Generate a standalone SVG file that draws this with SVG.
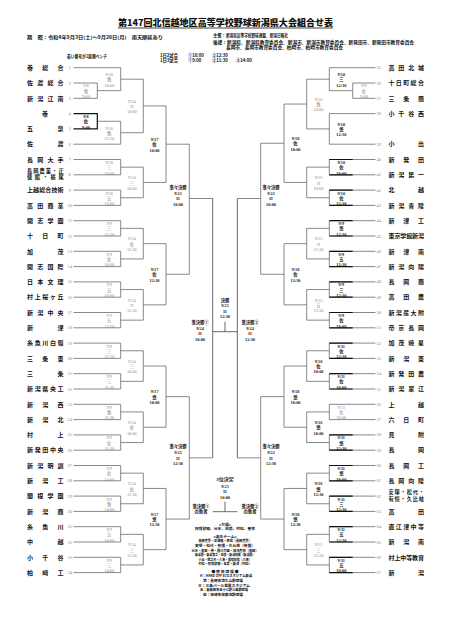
<svg xmlns="http://www.w3.org/2000/svg" width="452" height="640" viewBox="0 0 452 640">
<style>
.ln{fill:none;stroke:#6a6a6a;stroke-width:0.8}
.bd{fill:none;stroke:#111;stroke-width:1.2}
.nm{font-family:"Noto Sans CJK JP","Noto Sans",sans-serif;font-weight:700;font-size:6px;fill:#111}
.n2{font-size:5.2px}
.no{font-family:"Liberation Serif",serif;font-size:4.6px;fill:#888}
.lb{font-family:"Liberation Serif","Noto Sans CJK JP",serif;font-size:4.3px;text-anchor:middle}
.g{fill:#8a8a8a}
.k{fill:#1a1a1a;font-weight:700}
.hd{font-family:"Noto Sans CJK JP",sans-serif;font-size:4.3px;fill:#111;font-weight:700}
.ct{font-family:"Noto Sans CJK JP",sans-serif;font-size:3.8px;fill:#111;font-weight:700;text-anchor:middle}
.tt{font-family:"Noto Sans CJK JP",serif;font-size:9px;font-weight:900;fill:#111}
</style>
<rect width="452" height="640" fill="#fff"/>

<g id="title">
<text class="tt" x="118" y="26.2" textLength="215" lengthAdjust="spacingAndGlyphs">第147回北信越地区高等学校野球新潟県大会組合せ表</text>
<line x1="118" y1="28" x2="333" y2="28" stroke="#111" stroke-width="0.8"/>
</g>
<g id="header">
<text class="hd" x="27" y="39" textLength="136" lengthAdjust="spacingAndGlyphs">期　間：令和4年9月3日(土)～9月26日(月)　雨天順延あり</text>
<text class="hd" x="213" y="37.2">主催：<tspan textLength="62" lengthAdjust="spacingAndGlyphs">新潟県高等学校野球連盟、新潟日報社</tspan></text>
<text class="hd" x="213" y="43.7" textLength="201" lengthAdjust="spacingAndGlyphs">後援：新潟県、新潟県教育委員会、新潟市、新潟市教育委員会、新発田市、新発田市教育委員会</text>
<text class="hd" x="226" y="49.2" textLength="117" lengthAdjust="spacingAndGlyphs">長岡市、長岡市教育委員会、柏崎市、柏崎市教育委員会</text>
<text class="hd" x="67" y="57.5" textLength="40" lengthAdjust="spacingAndGlyphs">若い番号が1塁側ベンチ</text>
<text class="hd" x="160" y="56.5">1日2試合</text>
<text class="hd" x="188" y="56.5">①10:00</text>
<text class="hd" x="212" y="56.5">②12:30</text>
<text class="hd" x="160" y="61.5">1日3試合</text>
<text class="hd" x="188" y="61.5">①9:00</text>
<text class="hd" x="212" y="61.5">②11:30</text>
<text class="hd" x="236" y="61.5">③14:00</text>
</g>

<g id="connectors">
<path class="ln" d="M73.5 67.7H120.7M73.5 83H97.3V98.3H73.5M97.3 90.65H120.7M120.7 67.7V90.65M120.7 79.2H143.3M97.3 121.25H120.7M73.5 144.2H120.7V121.25M120.7 132.7H143.3M143.3 79.2V132.7M143.3 105.95H166
M73.5 159.5H120.7V174.8H73.5M120.7 167.15H143.3M73.5 190.1H120.7V205.4H73.5M120.7 197.75H143.3M143.3 167.15V197.75M143.3 182.45H166M166 105.95V182.45M166 144.2H189.3
M73.5 220.7H120.7V236H73.5M120.7 228.35H143.3M73.5 251.3H120.7V266.6H73.5M120.7 258.95H143.3M143.3 228.35V258.95M143.3 243.65H166
M73.5 281.9H120.7V297.2H73.5M120.7 289.55H143.3M73.5 312.5H120.7V327.8H73.5M120.7 320.15H143.3M143.3 289.55V320.15M143.3 304.85H166M166 243.65V304.85M166 274.25H189.3M189.3 144.2V274.25M189.3 198.5H212.7
M73.5 343.1H120.7V358.4H73.5M120.7 350.75H143.3M73.5 373.7H120.7V389H73.5M120.7 381.35H143.3M143.3 350.75V381.35M143.3 366.05H166
M73.5 404.3H120.7V419.6H73.5M120.7 411.95H143.3M73.5 434.9H120.7V450.2H73.5M120.7 442.55H143.3M143.3 411.95V442.55M143.3 427.25H166M166 366.05V427.25M166 396.65H189.3
M73.5 465.5H120.7V480.8H73.5M120.7 473.15H143.3M73.5 496.1H120.7V511.4H73.5M120.7 503.75H143.3M143.3 473.15V503.75M143.3 488.45H166
M73.5 526.7H120.7V542H73.5M120.7 534.35H143.3M73.5 557.3H120.7V572.6H73.5M120.7 564.95H143.3M143.3 534.35V564.95M143.3 549.65H166M166 488.45V549.65M166 519.05H189.3M189.3 396.65V519.05M189.3 457.85H212.7"/>
<path class="bd" d="M73.5 113.6H97.3V128.9H73.5"/>
<path class="ln" d="M375.5 67.7H329.3V90.65M375.5 83H352.7V98.3H375.5M352.7 90.65H329.3M329.3 79.2H306.7M375.5 113.6H329.3V144.2H375.5M329.3 128.9H306.7M306.7 79.2V128.9M306.7 104.05H284
M375.5 159.5H329.3V174.8H375.5M329.3 167.15H306.7M375.5 190.1H329.3V205.4H375.5M329.3 197.75H306.7M306.7 167.15V197.75M306.7 182.45H284M284 104.05V182.45M284 143.25H260.7
M375.5 220.7H329.3V236H375.5M329.3 228.35H306.7M375.5 251.3H329.3V266.6H375.5M329.3 258.95H306.7M306.7 228.35V258.95M306.7 243.65H284
M375.5 281.9H329.3V297.2H375.5M329.3 289.55H306.7M375.5 312.5H329.3V327.8H375.5M329.3 320.15H306.7M306.7 289.55V320.15M306.7 304.85H284M284 243.65V304.85M284 274.25H260.7M260.7 143.25V274.25M260.7 198.5H237.3
M375.5 343.1H329.3V358.4H375.5M329.3 350.75H306.7M375.5 373.7H329.3V389H375.5M329.3 381.35H306.7M306.7 350.75V381.35M306.7 366.05H284
M375.5 404.3H329.3V419.6H375.5M329.3 411.95H306.7M375.5 434.9H329.3V450.2H375.5M329.3 442.55H306.7M306.7 411.95V442.55M306.7 427.25H284M284 366.05V427.25M284 396.65H260.7
M375.5 465.5H329.3V480.8H375.5M329.3 473.15H306.7M375.5 496.1H329.3V511.4H375.5M329.3 503.75H306.7M306.7 473.15V503.75M306.7 488.45H284
M375.5 526.7H329.3V542H375.5M329.3 534.35H306.7M375.5 557.3H329.3V572.6H375.5M329.3 564.95H306.7M306.7 534.35V564.95M306.7 549.65H284M284 488.45V549.65M284 519.05H260.7M260.7 396.65V519.05M260.7 457.85H237.3"/>
<path class="bd" d="M352.7 159.5H329.3M352.7 174.8H329.3M352.7 190.1H329.3M352.7 205.4H329.3M352.7 220.7H329.3M352.7 236H329.3M352.7 251.3H329.3M352.7 266.6H329.3M352.7 281.9H329.3M352.7 297.2H329.3M352.7 312.5H329.3M352.7 327.8H329.3M352.7 343.1H329.3M352.7 358.4H329.3M352.7 373.7H329.3M352.7 389H329.3M352.7 434.9H329.3M352.7 450.2H329.3M352.7 465.5H329.3M352.7 480.8H329.3M352.7 496.1H329.3M352.7 511.4H329.3M352.7 526.7H329.3M352.7 542H329.3M352.7 557.3H329.3M352.7 572.6H329.3"/>
<path class="ln" style="stroke:#444" d="M212.7 198.5V457.85M237.3 198.5V457.85M212.7 331.7H237.3M225 321.7V331.7M212.7 511.7H237.3M225 501.7V511.7"/>
</g>

<g id="teams-left">
<g id="t1"><text class="nm" x="27" y="69.9" textLength="36.6" lengthAdjust="spacing">巻総合</text><text class="no" x="68.5" y="69.2">1</text></g>
<g id="t2"><text class="nm" x="27" y="85.2" textLength="36.6" lengthAdjust="spacing">佐渡総合</text><text class="no" x="68.5" y="84.5">2</text></g>
<g id="t3"><text class="nm" x="27" y="100.5" textLength="36.6" lengthAdjust="spacing">新潟江南</text><text class="no" x="68.5" y="99.8">3</text></g>
<g id="t4"><text class="nm" x="45" y="115.8" text-anchor="middle">巻</text><text class="no" x="68.5" y="115.1">4</text></g>
<g id="t5"><text class="nm" x="27" y="131.1" textLength="36.6" lengthAdjust="spacing">五泉</text><text class="no" x="68.5" y="130.4">5</text></g>
<g id="t6"><text class="nm" x="27" y="146.4" textLength="36.6" lengthAdjust="spacing">佐渡</text><text class="no" x="68.5" y="145.7">6</text></g>
<g id="t7"><text class="nm" x="27" y="161.7" textLength="36.6" lengthAdjust="spacing">長岡大手</text><text class="no" x="68.5" y="161">7</text></g>
<g id="t8"><text class="nm n2" x="27" y="173" textLength="36.6" lengthAdjust="spacing">長岡農業・正</text><text class="nm n2" x="27" y="179.3" textLength="36.6" lengthAdjust="spacing">徳館・栃尾</text><text class="no" x="68.5" y="176.3">8</text></g>
<g id="t9"><text class="nm" x="27" y="192.3" textLength="36.6" lengthAdjust="spacing">上越総合技術</text><text class="no" x="68.5" y="191.6">9</text></g>
<g id="t10"><text class="nm" x="27" y="207.6" textLength="36.6" lengthAdjust="spacing">高田商業</text><text class="no" x="67.5" y="206.9">10</text></g>
<g id="t11"><text class="nm" x="27" y="222.9" textLength="36.6" lengthAdjust="spacing">開志学園</text><text class="no" x="67.5" y="222.2">11</text></g>
<g id="t12"><text class="nm" x="27" y="238.2" textLength="36.6" lengthAdjust="spacing">十日町</text><text class="no" x="67.5" y="237.5">12</text></g>
<g id="t13"><text class="nm" x="27" y="253.5" textLength="36.6" lengthAdjust="spacing">加茂</text><text class="no" x="67.5" y="252.8">13</text></g>
<g id="t14"><text class="nm" x="27" y="268.8" textLength="36.6" lengthAdjust="spacing">開志国際</text><text class="no" x="67.5" y="268.1">14</text></g>
<g id="t15"><text class="nm" x="27" y="284.1" textLength="36.6" lengthAdjust="spacing">日本文理</text><text class="no" x="67.5" y="283.4">15</text></g>
<g id="t16"><text class="nm" x="27" y="299.4" textLength="36.6" lengthAdjust="spacing">村上桜ヶ丘</text><text class="no" x="67.5" y="298.7">16</text></g>
<g id="t17"><text class="nm" x="27" y="314.7" textLength="36.6" lengthAdjust="spacing">新潟中央</text><text class="no" x="67.5" y="314">17</text></g>
<g id="t18"><text class="nm" x="27" y="330" textLength="36.6" lengthAdjust="spacing">新津</text><text class="no" x="67.5" y="329.3">18</text></g>
<g id="t19"><text class="nm" x="27" y="345.3" textLength="36.6" lengthAdjust="spacing">糸魚川白嶺</text><text class="no" x="67.5" y="344.6">19</text></g>
<g id="t20"><text class="nm" x="27" y="360.6" textLength="36.6" lengthAdjust="spacing">三条東</text><text class="no" x="67.5" y="359.9">20</text></g>
<g id="t21"><text class="nm" x="27" y="375.9" textLength="36.6" lengthAdjust="spacing">三条</text><text class="no" x="67.5" y="375.2">21</text></g>
<g id="t22"><text class="nm" x="27" y="391.2" textLength="36.6" lengthAdjust="spacing">新潟県央工</text><text class="no" x="67.5" y="390.5">22</text></g>
<g id="t23"><text class="nm" x="27" y="406.5" textLength="36.6" lengthAdjust="spacing">新潟西</text><text class="no" x="67.5" y="405.8">23</text></g>
<g id="t24"><text class="nm" x="27" y="421.8" textLength="36.6" lengthAdjust="spacing">新潟北</text><text class="no" x="67.5" y="421.1">24</text></g>
<g id="t25"><text class="nm" x="27" y="437.1" textLength="36.6" lengthAdjust="spacing">村上</text><text class="no" x="67.5" y="436.4">25</text></g>
<g id="t26"><text class="nm" x="27" y="452.4" textLength="36.6" lengthAdjust="spacing">新発田中央</text><text class="no" x="67.5" y="451.7">26</text></g>
<g id="t27"><text class="nm" x="27" y="467.7" textLength="36.6" lengthAdjust="spacing">新潟明訓</text><text class="no" x="67.5" y="467">27</text></g>
<g id="t28"><text class="nm" x="27" y="483" textLength="36.6" lengthAdjust="spacing">新潟工</text><text class="no" x="67.5" y="482.3">28</text></g>
<g id="t29"><text class="nm" x="27" y="498.3" textLength="36.6" lengthAdjust="spacing">関根学園</text><text class="no" x="67.5" y="497.6">29</text></g>
<g id="t30"><text class="nm" x="27" y="513.6" textLength="36.6" lengthAdjust="spacing">新潟商</text><text class="no" x="67.5" y="512.9">30</text></g>
<g id="t31"><text class="nm" x="27" y="528.9" textLength="36.6" lengthAdjust="spacing">糸魚川</text><text class="no" x="67.5" y="528.2">31</text></g>
<g id="t32"><text class="nm" x="27" y="544.2" textLength="36.6" lengthAdjust="spacing">中越</text><text class="no" x="67.5" y="543.5">32</text></g>
<g id="t33"><text class="nm" x="27" y="559.5" textLength="36.6" lengthAdjust="spacing">小千谷</text><text class="no" x="67.5" y="558.8">33</text></g>
<g id="t34"><text class="nm" x="27" y="574.8" textLength="36.6" lengthAdjust="spacing">柏崎工</text><text class="no" x="67.5" y="574.1">34</text></g>
</g>

<g id="teams-right">
<g id="t35"><text class="no" x="376.5" y="69.2">35</text><text class="nm" x="388.5" y="69.9" textLength="35.5" lengthAdjust="spacing">高田北城</text></g>
<g id="t36"><text class="no" x="376.5" y="84.5">36</text><text class="nm" x="388.5" y="85.2" textLength="35.5" lengthAdjust="spacing">十日町総合</text></g>
<g id="t37"><text class="no" x="376.5" y="99.8">37</text><text class="nm" x="388.5" y="100.5" textLength="35.5" lengthAdjust="spacing">三条商</text></g>
<g id="t38"><text class="no" x="376.5" y="115.1">38</text><text class="nm" x="388.5" y="115.8" textLength="35.5" lengthAdjust="spacing">小千谷西</text></g>
<g id="t39"><text class="no" x="376.5" y="145.7">39</text><text class="nm" x="388.5" y="146.4" textLength="35.5" lengthAdjust="spacing">小出</text></g>
<g id="t40"><text class="no" x="376.5" y="161">40</text><text class="nm" x="388.5" y="161.7" textLength="35.5" lengthAdjust="spacing">新発田</text></g>
<g id="t41"><text class="no" x="376.5" y="176.3">41</text><text class="nm" x="388.5" y="177" textLength="35.5" lengthAdjust="spacing">新潟第一</text></g>
<g id="t42"><text class="no" x="376.5" y="191.6">42</text><text class="nm" x="388.5" y="192.3" textLength="35.5" lengthAdjust="spacing">北越</text></g>
<g id="t43"><text class="no" x="376.5" y="206.9">43</text><text class="nm" x="388.5" y="207.6" textLength="35.5" lengthAdjust="spacing">新潟青陵</text></g>
<g id="t44"><text class="no" x="376.5" y="222.2">44</text><text class="nm" x="388.5" y="222.9" textLength="35.5" lengthAdjust="spacing">新津工</text></g>
<g id="t45"><text class="no" x="376.5" y="237.5">45</text><text class="nm" x="388.5" y="238.2" textLength="35.5" lengthAdjust="spacing">東京学館新潟</text></g>
<g id="t46"><text class="no" x="376.5" y="252.8">46</text><text class="nm" x="388.5" y="253.5" textLength="35.5" lengthAdjust="spacing">新津南</text></g>
<g id="t47"><text class="no" x="376.5" y="268.1">47</text><text class="nm" x="388.5" y="268.8" textLength="35.5" lengthAdjust="spacing">新潟向陽</text></g>
<g id="t48"><text class="no" x="376.5" y="283.4">48</text><text class="nm" x="388.5" y="284.1" textLength="35.5" lengthAdjust="spacing">長岡商</text></g>
<g id="t49"><text class="no" x="376.5" y="298.7">49</text><text class="nm" x="388.5" y="299.4" textLength="35.5" lengthAdjust="spacing">高田農</text></g>
<g id="t50"><text class="no" x="376.5" y="314">50</text><text class="nm" x="388.5" y="314.7" textLength="35.5" lengthAdjust="spacing">新潟産大附</text></g>
<g id="t51"><text class="no" x="376.5" y="329.3">51</text><text class="nm" x="388.5" y="330" textLength="35.5" lengthAdjust="spacing">帝京長岡</text></g>
<g id="t52"><text class="no" x="376.5" y="344.6">52</text><text class="nm" x="388.5" y="345.3" textLength="35.5" lengthAdjust="spacing">加茂暁星</text></g>
<g id="t53"><text class="no" x="376.5" y="359.9">53</text><text class="nm" x="388.5" y="360.6" textLength="35.5" lengthAdjust="spacing">新潟東</text></g>
<g id="t54"><text class="no" x="376.5" y="375.2">54</text><text class="nm" x="388.5" y="375.9" textLength="35.5" lengthAdjust="spacing">新発田農</text></g>
<g id="t55"><text class="no" x="376.5" y="390.5">55</text><text class="nm" x="388.5" y="391.2" textLength="35.5" lengthAdjust="spacing">新潟翠江</text></g>
<g id="t56"><text class="no" x="376.5" y="405.8">56</text><text class="nm" x="388.5" y="406.5" textLength="35.5" lengthAdjust="spacing">上越</text></g>
<g id="t57"><text class="no" x="376.5" y="421.1">57</text><text class="nm" x="388.5" y="421.8" textLength="35.5" lengthAdjust="spacing">六日町</text></g>
<g id="t58"><text class="no" x="376.5" y="436.4">58</text><text class="nm" x="388.5" y="437.1" textLength="35.5" lengthAdjust="spacing">見附</text></g>
<g id="t59"><text class="no" x="376.5" y="451.7">59</text><text class="nm" x="388.5" y="452.4" textLength="35.5" lengthAdjust="spacing">長岡</text></g>
<g id="t60"><text class="no" x="376.5" y="467">60</text><text class="nm" x="388.5" y="467.7" textLength="35.5" lengthAdjust="spacing">長岡工</text></g>
<g id="t61"><text class="no" x="376.5" y="482.3">61</text><text class="nm" x="388.5" y="483" textLength="35.5" lengthAdjust="spacing">長岡向陵</text></g>
<g id="t62"><text class="no" x="376.5" y="497.6">62</text><text class="nm n2" x="388.5" y="494.4" textLength="35.5" lengthAdjust="spacing">安塚・松代・</text><text class="nm n2" x="388.5" y="500.7" textLength="35.5" lengthAdjust="spacing">有恒・久比岐</text></g>
<g id="t63"><text class="no" x="376.5" y="512.9">63</text><text class="nm" x="388.5" y="513.6" textLength="35.5" lengthAdjust="spacing">高田</text></g>
<g id="t64"><text class="no" x="376.5" y="528.2">64</text><text class="nm" x="388.5" y="528.9" textLength="35.5" lengthAdjust="spacing">直江津中等</text></g>
<g id="t65"><text class="no" x="376.5" y="543.5">65</text><text class="nm" x="388.5" y="544.2" textLength="35.5" lengthAdjust="spacing">新潟南</text></g>
<g id="t66"><text class="no" x="376.5" y="558.8">66</text><text class="nm" x="388.5" y="559.5" textLength="35.5" lengthAdjust="spacing">村上中等教育</text></g>
<g id="t67"><text class="no" x="376.5" y="574.1">67</text><text class="nm" x="388.5" y="574.8" textLength="35.5" lengthAdjust="spacing">新潟</text></g>
</g>

<g id="matches-left">
<g id="mLA1"><text class="lb g" x="86" y="87.45"><tspan x="86">9/8</tspan><tspan x="86" dy="5.3">悠</tspan><tspan x="86" dy="5.3">9:00</tspan></text></g>
<g id="mLA2"><text class="lb k" x="86" y="118.05"><tspan x="86">9/8</tspan><tspan x="86" dy="5.3">佐</tspan><tspan x="86" dy="5.3">9:00</tspan></text></g>
<g id="mLA3"><text class="lb g" x="109.2" y="76"><tspan x="109.2">9/10</tspan><tspan x="109.2" dy="5.3">悠</tspan><tspan x="109.2" dy="5.3">10:00</tspan></text></g>
<g id="mLA4"><text class="lb g" x="109.2" y="129.5"><tspan x="109.2">9/10</tspan><tspan x="109.2" dy="5.3">悠</tspan><tspan x="109.2" dy="5.3">12:30</tspan></text></g>
<g id="mLA5"><text class="lb g" x="131.8" y="102.75"><tspan x="131.8">9/14</tspan><tspan x="131.8" dy="5.3">H</tspan><tspan x="131.8" dy="5.3">10:00</tspan></text></g>
<g id="mLB1"><text class="lb g" x="109.2" y="163.95"><tspan x="109.2">9/10</tspan><tspan x="109.2" dy="5.3">三</tspan><tspan x="109.2" dy="5.3">10:00</tspan></text></g>
<g id="mLB2"><text class="lb g" x="109.2" y="194.55"><tspan x="109.2">9/10</tspan><tspan x="109.2" dy="5.3">五</tspan><tspan x="109.2" dy="5.3">10:00</tspan></text></g>
<g id="mLB3"><text class="lb g" x="131.8" y="179.25"><tspan x="131.8">9/14</tspan><tspan x="131.8" dy="5.3">三</tspan><tspan x="131.8" dy="5.3">10:00</tspan></text></g>
<g id="mL17a"><text class="lb k" x="154.5" y="141"><tspan x="154.5">9/17</tspan><tspan x="154.5" dy="5.3">佐</tspan><tspan x="154.5" dy="5.3">10:00</tspan></text></g>
<g id="mLC1"><text class="lb g" x="109.2" y="225.15"><tspan x="109.2">9/9</tspan><tspan x="109.2" dy="5.3">三</tspan><tspan x="109.2" dy="5.3">12:30</tspan></text></g>
<g id="mLC2"><text class="lb g" x="109.2" y="255.75"><tspan x="109.2">9/9</tspan><tspan x="109.2" dy="5.3">佐</tspan><tspan x="109.2" dy="5.3">10:00</tspan></text></g>
<g id="mLC3"><text class="lb g" x="131.8" y="240.45"><tspan x="131.8">9/14</tspan><tspan x="131.8" dy="5.3">佐</tspan><tspan x="131.8" dy="5.3">12:30</tspan></text></g>
<g id="mLD1"><text class="lb g" x="109.2" y="286.35"><tspan x="109.2">9/9</tspan><tspan x="109.2" dy="5.3">五</tspan><tspan x="109.2" dy="5.3">10:00</tspan></text></g>
<g id="mLD2"><text class="lb g" x="109.2" y="316.95"><tspan x="109.2">9/9</tspan><tspan x="109.2" dy="5.3">五</tspan><tspan x="109.2" dy="5.3">12:30</tspan></text></g>
<g id="mLD3"><text class="lb g" x="131.8" y="301.65"><tspan x="131.8">9/14</tspan><tspan x="131.8" dy="5.3">H</tspan><tspan x="131.8" dy="5.3">12:30</tspan></text></g>
<g id="mL17b"><text class="lb k" x="154.5" y="271.05"><tspan x="154.5">9/17</tspan><tspan x="154.5" dy="5.3">佐</tspan><tspan x="154.5" dy="5.3">12:30</tspan></text></g>
<g id="mLE1"><text class="lb g" x="109.2" y="347.55"><tspan x="109.2">9/9</tspan><tspan x="109.2" dy="5.3">三</tspan><tspan x="109.2" dy="5.3">12:30</tspan></text></g>
<g id="mLE2"><text class="lb g" x="109.2" y="378.15"><tspan x="109.2">9/9</tspan><tspan x="109.2" dy="5.3">三</tspan><tspan x="109.2" dy="5.3">11:30</tspan></text></g>
<g id="mLE3"><text class="lb g" x="131.8" y="362.85"><tspan x="131.8">9/14</tspan><tspan x="131.8" dy="5.3">三</tspan><tspan x="131.8" dy="5.3">10:00</tspan></text></g>
<g id="mLF1"><text class="lb g" x="109.2" y="408.75"><tspan x="109.2">9/9</tspan><tspan x="109.2" dy="5.3">悠</tspan><tspan x="109.2" dy="5.3">11:30</tspan></text></g>
<g id="mLF2"><text class="lb g" x="109.2" y="439.35"><tspan x="109.2">9/9</tspan><tspan x="109.2" dy="5.3">佐</tspan><tspan x="109.2" dy="5.3">11:30</tspan></text></g>
<g id="mLF3"><text class="lb g" x="131.8" y="424.05"><tspan x="131.8">9/14</tspan><tspan x="131.8" dy="5.3">佐</tspan><tspan x="131.8" dy="5.3">10:00</tspan></text></g>
<g id="mL17c"><text class="lb k" x="154.5" y="393.45"><tspan x="154.5">9/17</tspan><tspan x="154.5" dy="5.3">悠</tspan><tspan x="154.5" dy="5.3">10:00</tspan></text></g>
<g id="mLG1"><text class="lb g" x="109.2" y="469.95"><tspan x="109.2">9/9</tspan><tspan x="109.2" dy="5.3">佐</tspan><tspan x="109.2" dy="5.3">14:00</tspan></text></g>
<g id="mLG2"><text class="lb g" x="109.2" y="500.55"><tspan x="109.2">9/9</tspan><tspan x="109.2" dy="5.3">悠</tspan><tspan x="109.2" dy="5.3">14:00</tspan></text></g>
<g id="mLG3"><text class="lb g" x="131.8" y="485.25"><tspan x="131.8">9/14</tspan><tspan x="131.8" dy="5.3">佐</tspan><tspan x="131.8" dy="5.3">12:30</tspan></text></g>
<g id="mLH1"><text class="lb g" x="109.2" y="531.15"><tspan x="109.2">9/9</tspan><tspan x="109.2" dy="5.3">五</tspan><tspan x="109.2" dy="5.3">10:00</tspan></text></g>
<g id="mLH2"><text class="lb g" x="109.2" y="561.75"><tspan x="109.2">9/9</tspan><tspan x="109.2" dy="5.3">三</tspan><tspan x="109.2" dy="5.3">14:00</tspan></text></g>
<g id="mLH3"><text class="lb g" x="131.8" y="546.45"><tspan x="131.8">9/14</tspan><tspan x="131.8" dy="5.3">三</tspan><tspan x="131.8" dy="5.3">12:30</tspan></text></g>
<g id="mL17d"><text class="lb k" x="154.5" y="515.85"><tspan x="154.5">9/17</tspan><tspan x="154.5" dy="5.3">悠</tspan><tspan x="154.5" dy="5.3">12:30</tspan></text></g>
</g>

<g id="matches-right">
<g id="mRA1"><text class="lb g" x="364" y="87.45"><tspan x="364">9/8</tspan><tspan x="364" dy="5.3">佐</tspan><tspan x="364" dy="5.3">9:00</tspan></text></g>
<g id="mRA2"><text class="lb k" x="341.3" y="76"><tspan x="341.3">9/10</tspan><tspan x="341.3" dy="5.3">三</tspan><tspan x="341.3" dy="5.3">12:30</tspan></text></g>
<g id="mRA3"><text class="lb k" x="341.3" y="125.7"><tspan x="341.3">9/10</tspan><tspan x="341.3" dy="5.3">悠</tspan><tspan x="341.3" dy="5.3">12:30</tspan></text></g>
<g id="mRA4"><text class="lb g" x="318.5" y="100.85"><tspan x="318.5">9/16</tspan><tspan x="318.5" dy="5.3">悠</tspan><tspan x="318.5" dy="5.3">10:00</tspan></text></g>
<g id="mRB1"><text class="lb k" x="341.3" y="163.95"><tspan x="341.3">9/10</tspan><tspan x="341.3" dy="5.3">佐</tspan><tspan x="341.3" dy="5.3">10:00</tspan></text></g>
<g id="mRB2"><text class="lb k" x="341.3" y="194.55"><tspan x="341.3">9/10</tspan><tspan x="341.3" dy="5.3">佐</tspan><tspan x="341.3" dy="5.3">12:30</tspan></text></g>
<g id="mRB3"><text class="lb g" x="318.5" y="179.25"><tspan x="318.5">9/16</tspan><tspan x="318.5" dy="5.3">H</tspan><tspan x="318.5" dy="5.3">10:00</tspan></text></g>
<g id="mR18a"><text class="lb k" x="295.5" y="140.05"><tspan x="295.5">9/18</tspan><tspan x="295.5" dy="5.3">佐</tspan><tspan x="295.5" dy="5.3">10:00</tspan></text></g>
<g id="mRC1"><text class="lb k" x="341.3" y="225.15"><tspan x="341.3">9/9</tspan><tspan x="341.3" dy="5.3">悠</tspan><tspan x="341.3" dy="5.3">12:30</tspan></text></g>
<g id="mRC2"><text class="lb k" x="341.3" y="255.75"><tspan x="341.3">9/9</tspan><tspan x="341.3" dy="5.3">五</tspan><tspan x="341.3" dy="5.3">12:30</tspan></text></g>
<g id="mRC3"><text class="lb g" x="318.5" y="240.45"><tspan x="318.5">9/15</tspan><tspan x="318.5" dy="5.3">H</tspan><tspan x="318.5" dy="5.3">12:30</tspan></text></g>
<g id="mRD1"><text class="lb k" x="341.3" y="286.35"><tspan x="341.3">9/9</tspan><tspan x="341.3" dy="5.3">三</tspan><tspan x="341.3" dy="5.3">12:30</tspan></text></g>
<g id="mRD2"><text class="lb k" x="341.3" y="316.95"><tspan x="341.3">9/9</tspan><tspan x="341.3" dy="5.3">佐</tspan><tspan x="341.3" dy="5.3">10:00</tspan></text></g>
<g id="mRD3"><text class="lb g" x="318.5" y="301.65"><tspan x="318.5">9/15</tspan><tspan x="318.5" dy="5.3">五</tspan><tspan x="318.5" dy="5.3">12:30</tspan></text></g>
<g id="mR18b"><text class="lb k" x="295.5" y="271.05"><tspan x="295.5">9/18</tspan><tspan x="295.5" dy="5.3">佐</tspan><tspan x="295.5" dy="5.3">12:30</tspan></text></g>
<g id="mRE1"><text class="lb k" x="341.3" y="347.55"><tspan x="341.3">9/11</tspan><tspan x="341.3" dy="5.3">佐</tspan><tspan x="341.3" dy="5.3">12:30</tspan></text></g>
<g id="mRE2"><text class="lb k" x="341.3" y="378.15"><tspan x="341.3">9/11</tspan><tspan x="341.3" dy="5.3">佐</tspan><tspan x="341.3" dy="5.3">10:00</tspan></text></g>
<g id="mRE3"><text class="lb k" x="318.5" y="362.85"><tspan x="318.5">9/16</tspan><tspan x="318.5" dy="5.3">佐</tspan><tspan x="318.5" dy="5.3">10:00</tspan></text></g>
<g id="mRF1"><text class="lb g" x="341.3" y="408.75"><tspan x="341.3">9/11</tspan><tspan x="341.3" dy="5.3">佐</tspan><tspan x="341.3" dy="5.3">10:00</tspan></text></g>
<g id="mRF2"><text class="lb k" x="341.3" y="439.35"><tspan x="341.3">9/11</tspan><tspan x="341.3" dy="5.3">悠</tspan><tspan x="341.3" dy="5.3">12:30</tspan></text></g>
<g id="mRF3"><text class="lb k" x="318.5" y="424.05"><tspan x="318.5">9/16</tspan><tspan x="318.5" dy="5.3">悠</tspan><tspan x="318.5" dy="5.3">10:00</tspan></text></g>
<g id="mR18c"><text class="lb k" x="295.5" y="393.45"><tspan x="295.5">9/18</tspan><tspan x="295.5" dy="5.3">悠</tspan><tspan x="295.5" dy="5.3">10:00</tspan></text></g>
<g id="mRG1"><text class="lb k" x="341.3" y="469.95"><tspan x="341.3">9/11</tspan><tspan x="341.3" dy="5.3">悠</tspan><tspan x="341.3" dy="5.3">10:00</tspan></text></g>
<g id="mRG2"><text class="lb k" x="341.3" y="500.55"><tspan x="341.3">9/11</tspan><tspan x="341.3" dy="5.3">三</tspan><tspan x="341.3" dy="5.3">12:30</tspan></text></g>
<g id="mRG3"><text class="lb k" x="318.5" y="485.25"><tspan x="318.5">9/16</tspan><tspan x="318.5" dy="5.3">悠</tspan><tspan x="318.5" dy="5.3">12:30</tspan></text></g>
<g id="mRH1"><text class="lb k" x="341.3" y="531.15"><tspan x="341.3">9/11</tspan><tspan x="341.3" dy="5.3">五</tspan><tspan x="341.3" dy="5.3">12:30</tspan></text></g>
<g id="mRH2"><text class="lb k" x="341.3" y="561.75"><tspan x="341.3">9/11</tspan><tspan x="341.3" dy="5.3">五</tspan><tspan x="341.3" dy="5.3">10:00</tspan></text></g>
<g id="mRH3"><text class="lb g" x="318.5" y="546.45"><tspan x="318.5">9/15</tspan><tspan x="318.5" dy="5.3">三</tspan><tspan x="318.5" dy="5.3">12:30</tspan></text></g>
<g id="mR18d"><text class="lb k" x="295.5" y="515.85"><tspan x="295.5">9/18</tspan><tspan x="295.5" dy="5.3">悠</tspan><tspan x="295.5" dy="5.3">12:30</tspan></text></g>
</g>

<g id="matches-center">
<g id="qfL1"><text class="lb k" x="178" y="188.9"><tspan x="178">準々決勝</tspan><tspan x="178" dy="5.8">9/21</tspan><tspan x="178" dy="5.5">H</tspan><tspan x="178" dy="5.7">10:00</tspan></text></g>
<g id="qfL2"><text class="lb k" x="178" y="448.25"><tspan x="178">準々決勝</tspan><tspan x="178" dy="5.8">9/21</tspan><tspan x="178" dy="5.5">H</tspan><tspan x="178" dy="5.7">12:30</tspan></text></g>
<g id="qfR1"><text class="lb k" x="271" y="188.9"><tspan x="271">準々決勝</tspan><tspan x="271" dy="5.8">9/22</tspan><tspan x="271" dy="5.5">H</tspan><tspan x="271" dy="5.7">10:00</tspan></text></g>
<g id="qfR2"><text class="lb k" x="271" y="448.25"><tspan x="271">準々決勝</tspan><tspan x="271" dy="5.8">9/22</tspan><tspan x="271" dy="5.5">H</tspan><tspan x="271" dy="5.7">12:30</tspan></text></g>
<g id="sf1"><text class="lb k" x="200" y="324.2"><tspan x="200">準決勝①</tspan><tspan x="200" dy="5.6">9/24</tspan><tspan x="200" dy="5.6">H</tspan><tspan x="200" dy="5.6">10:00</tspan></text></g>
<g id="sf2"><text class="lb k" x="250" y="324.2"><tspan x="250">準決勝②</tspan><tspan x="250" dy="5.6">9/24</tspan><tspan x="250" dy="5.6">H</tspan><tspan x="250" dy="5.6">12:30</tspan></text></g>
<g id="final"><text class="lb k" x="225" y="301.5"><tspan x="225">決勝</tspan><tspan x="225" dy="5.7">9/25</tspan><tspan x="225" dy="5.3">H</tspan><tspan x="225" dy="5.7">12:30</tspan></text></g>
<g id="third"><text class="lb k" x="225" y="480.5" style="font-size:5px"><tspan x="225">3位決定</tspan></text><text class="lb k" x="225" y="488"><tspan x="225">9/25</tspan><tspan x="225" dy="5.3">H</tspan><tspan x="225" dy="5.5">10:00</tspan></text></g>
<g id="loserL"><text class="lb k" x="201" y="508.3"><tspan x="201">準決勝①</tspan><tspan x="201" dy="4.8">の敗者</tspan></text></g>
<g id="loserR"><text class="lb k" x="250" y="508.3"><tspan x="250">準決勝②</tspan><tspan x="250" dy="4.8">の敗者</tspan></text></g>
</g>

<g id="notes">
<text class="ct" x="225" y="525.5">&lt;欠場&gt;</text>
<text class="ct" x="225" y="529.8" textLength="60" lengthAdjust="spacingAndGlyphs">阿賀黎明、分水、白根、村松、豊栄</text>
<text class="ct" x="225" y="537.5">&lt;連合チーム&gt;</text>
<text class="ct" x="225" y="541.8" textLength="53" lengthAdjust="spacingAndGlyphs">長岡農業・正徳館・栃尾（長岡農業）</text>
<text class="ct" x="225" y="546.5" textLength="60" lengthAdjust="spacingAndGlyphs">安塚・松代・有恒・久比岐（有恒）</text>
<text class="ct" x="225" y="551.5" textLength="67" lengthAdjust="spacingAndGlyphs">分水・吉田・巻・西川竹園・加茂農林（吉田）</text>
<text class="ct" x="225" y="556.2" textLength="60" lengthAdjust="spacingAndGlyphs">新潟西・新潟東工・白根・新潟向陽（新潟西）</text>
<text class="ct" x="225" y="560.5" textLength="53" lengthAdjust="spacingAndGlyphs">小出・堀之内・八海・国際情報（八海）</text>
<text class="ct" x="225" y="565.2" textLength="53" lengthAdjust="spacingAndGlyphs">村松・阿賀黎明・五泉・新津（村松）</text>
<text class="ct" x="225" y="573.2">● 使 用 球 場 ●</text>
<text class="ct" x="226" y="577.2" textLength="52" lengthAdjust="spacingAndGlyphs">H：HARD OFF ECOスタジアム新潟</text>
<text class="ct" x="223" y="581.8" textLength="40" lengthAdjust="spacingAndGlyphs">悠：長岡市悠久山野球場</text>
<text class="ct" x="224" y="586.5" textLength="52" lengthAdjust="spacingAndGlyphs">三：三条パール金属スタジアム</text>
<text class="ct" x="224" y="590.8" textLength="48" lengthAdjust="spacingAndGlyphs">五：新発田市五十公野公園野球場</text>
<text class="ct" x="223" y="595.5" textLength="40" lengthAdjust="spacingAndGlyphs">佐：柏崎市佐藤池野球場</text>
</g>
</svg>
